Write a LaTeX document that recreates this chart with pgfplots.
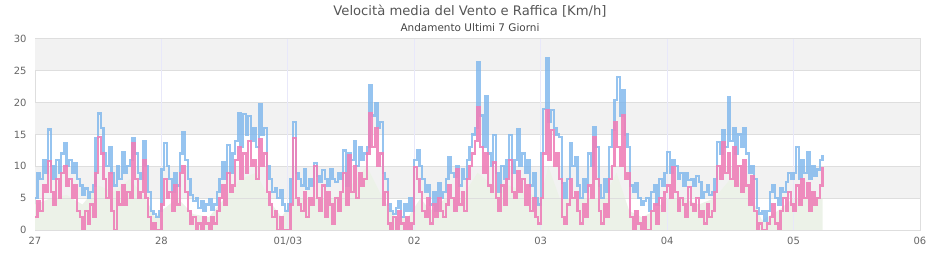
\documentclass[border=0pt]{standalone}
\usepackage{pgfplots}
\pgfplotsset{compat=1.18}
\usepackage{pgfplotstable}
\usepackage{fontspec}
\setmainfont{DejaVu Sans}
\definecolor{gust}{RGB}{124,181,236}
\definecolor{meanc}{RGB}{238,128,184}
\definecolor{band}{RGB}{242,242,242}
\definecolor{gridc}{RGB}{222,222,222}
\definecolor{vgrid}{RGB}{232,232,250}
\definecolor{avgc}{RGB}{236,242,232}
\definecolor{txt}{RGB}{102,102,102}
\definecolor{titlec}{RGB}{85,85,85}

\pgfplotstableread{
g m
5 2
9 4.5
8 3
11 7
9 6
15.8 10.8
10 6
8 4
11 8
9 5
12 9
13.6 10
10 7
11 8
9 5
10.5 7
8 3
7 2
5.5 0
6.5 3
5 1
6 4
7 2
14.5 9
18.3 14.6
16 12
12 8
10 5
13 9
9 3
7 0
10 6
8 4
12.2 7
9 4
10 6
11 5
14.4 13.6
12 8
9 5
8 6
14 11
10 5
6 2
3 0
2.5 1
2 0
3 0
9.5 4
13.7 8
10 5
8 6
6 3
9 7
7 4
12 9
15.4 10
11 6
8 3
5.5 1
4.5 2
5 0
3.5 1
4.5 0
3 2
4 1
4.8 0
3.2 2
4 1
6 3
8 5
10.7 7
8 4
13.3 9
9 6
12 7
14 11
18.3 13
13 8
18.2 12
15 9
17.9 14
14 10
16 11
13 8
19.8 14.3
15 10
16 12
10 6
8 4
6 2
6.5 3
5 0
6.3 2
4 0
3 0
4 0
8 4
17 14.4
9 5
8 4
7 3
9.5 6
6.5 2
8 5
7 4
10.5 10
8.5 5
7.5 3
9.4 7
8 2
7 6
9.6 4
8 1
7.5 5
9 3
8 6
12.5 9
7 4
12 11.8
11 6
14 10
10 5
13 9
11 7
12 8
13 12
22.7 18.3
18 13
20 16
16 10
17 12
9 4
8 6
4 1
3 0
2.5 2
3.5 0
4.5 3
2 1
4 0
3 2
5 0
3 1
11 9.9
12.5 8
10 6
8 3
6 2
7 5
4 1
6 4
3 2
7.4 5
5 3
6 2
8 4
11.5 7
9 5
8.3 3
10 9.5
7 4
9.5 6
8 3
11 8
13 10
15 12
16 14
26.3 19.3
18 13
13 9
21 12
12 7
10 6
14.9 10.6
9 5
6 3
10 7
8 4
11 8
14.9 11
9 6
11 5
15.8 9.3
10 6
12 8
9 4
11 7
7 3
9 5
5 2
4 1
12 5
19 12
27 18.8
17 11
18.8 15.7
16 10
15 12
14.6 8
7.4 2
5 1
8 4
13.7 8
10 5
11.5 6
7 3
5 1
8 4
6 2
12 7
10 5
16.2 14.6
13 8
7 3
5 1
8 4
6 2
13 8
15.7 10
20.4 17
24 13
18 10
22 18
15 8
13 9
7 2
6 0
7.4 3
5 1
4 0
4.5 2
5 0
3 0
6 3
7 4
4 1
8 5
7 3
8.9 6
12.2 7
9 5
11 9.9
10 6
8 3
9 5
7 4
8.9 2
7.8 6.8
8 4
7 3
8.5 5
7.5 2
5 3
6 1
7 4
5.5 2
6 3
8 6
13.8 10
12 8
15.7 13.8
13 9
20.8 12
14 8
16 13
12 7
15 10
13 6
16 11
12 7
9 4
10 8.5
8 3
3.5 0
2.6 1
3 0
1.5 0
3 1
6 2
7 4
5 1
4 0
6.5 3
6 5
7.5 3
9 6
8 4
9 3
13 7
8 4
11 8
9 5
12.3 7.4
8 3
10 6
8.5 4
9.5 5
11 7
11.8 9.9
}\windtable

\pgfplotstableread{
d v
0 4
0.125 5
0.25 5.5
0.375 4
0.5 7
0.625 6
0.75 8
0.875 5
0.95 2
1.0 3
1.125 5
1.25 2.5
1.375 2
1.5 5
1.625 8
1.75 9
1.875 4
1.95 2
2.05 5
2.125 5
2.25 5
2.375 5
2.5 7
2.625 10
2.75 5
2.85 2
2.95 2
3.05 5
3.125 3
3.25 5
3.375 5
3.5 9
3.625 7
3.75 7
3.875 6
4.0 5
4.06 10
4.15 5
4.25 5
4.375 5
4.5 5
4.6 9
4.7 3
4.8 2
4.9 3
5.0 5
5.125 5
5.25 4
5.375 5
5.5 8
5.625 7
5.75 1.5
5.875 3
6.0 5
6.125 5
6.23 5
}\avgtable

\begin{document}
\begin{tikzpicture}
\path[use as bounding box] (0,0) rectangle (940bp,260bp);
\begin{axis}[
  at={(35bp,30bp)}, anchor=south west,
  scale only axis, width=885bp, height=191bp,
  xmin=0, xmax=7, ymin=0, ymax=30,
  axis line style={draw=gridc, line width=1bp},
  major tick length=0pt,
  xtick={0,1,2,3,4,5,6,7},
  xticklabels={27,28,01/03,02,03,04,05,06},
  ytick={0,5,10,15,20,25,30},
  /pgf/number format/assume math mode=true,
  tick label style={font=\fontsize{10}{12}\selectfont, text=txt},
  yticklabel style={xshift=-5bp},
  xticklabel style={yshift=-4bp},
]
\fill[band] (axis cs:0,25) rectangle (axis cs:7,30);
\fill[band] (axis cs:0,15) rectangle (axis cs:7,20);
\fill[band] (axis cs:0,5) rectangle (axis cs:7,10);
\addplot[forget plot, draw=none, fill=avgc] table[x=d, y=v]{\avgtable} \closedcycle;
\draw[gridc, line width=1bp] (axis cs:0,5) -- (axis cs:7,5);
\draw[gridc, line width=1bp] (axis cs:0,10) -- (axis cs:7,10);
\draw[gridc, line width=1bp] (axis cs:0,15) -- (axis cs:7,15);
\draw[gridc, line width=1bp] (axis cs:0,20) -- (axis cs:7,20);
\draw[gridc, line width=1bp] (axis cs:0,25) -- (axis cs:7,25);
\draw[vgrid, line width=1bp] (axis cs:1,0) -- (axis cs:1,30);
\draw[vgrid, line width=1bp] (axis cs:2,0) -- (axis cs:2,30);
\draw[vgrid, line width=1bp] (axis cs:3,0) -- (axis cs:3,30);
\draw[vgrid, line width=1bp] (axis cs:4,0) -- (axis cs:4,30);
\draw[vgrid, line width=1bp] (axis cs:5,0) -- (axis cs:5,30);
\draw[vgrid, line width=1bp] (axis cs:6,0) -- (axis cs:6,30);
\addplot[forget plot, const plot, gust, line width=2.3bp, opacity=0.8] table[x expr=\coordindex/48, y=g]{\windtable};
\addplot[forget plot, const plot, meanc, line width=2.3bp, opacity=0.9] table[x expr=\coordindex/48, y=m]{\windtable};
\end{axis}
\node[font=\fontsize{13.2}{15}\selectfont, text=titlec] at (470bp,249bp) {Velocità media del Vento e Raffica [Km/h]};
\node[font=\fontsize{10.5}{12}\selectfont, text=titlec!80!black] at (470bp,232bp) {Andamento Ultimi 7 Giorni};
\end{tikzpicture}
\end{document}
